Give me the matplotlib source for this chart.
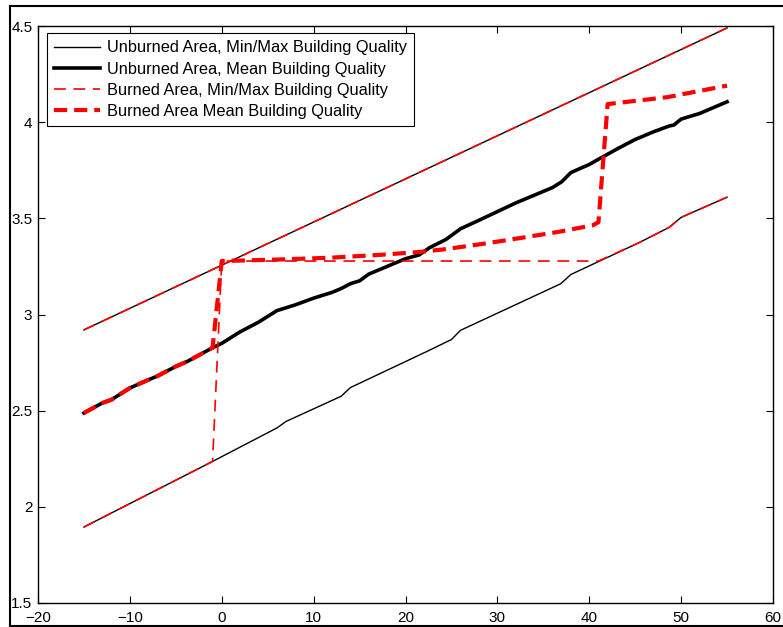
import numpy as np
import matplotlib
matplotlib.use("Agg")
from matplotlib import pyplot as plt
from matplotlib.lines import Line2D

plt.rcParams['font.family'] = ['Liberation Sans', 'DejaVu Sans']
plt.rcParams['lines.scale_dashes'] = False

# 未燃区 最小/最大
max_x = [-15, 55]
max_y = [2.92, 4.49]
min_x = [-15, -1, 6, 7, 13, 14, 22.6, 25, 26, 36.9, 38, 41, 45.4, 48.7, 50, 55]
min_y = [1.895, 2.236, 2.41, 2.444, 2.575, 2.62, 2.814, 2.87, 2.918, 3.16, 3.208,
         3.275, 3.373, 3.453, 3.505, 3.61]

# 未燃区 平均
mean_x = [-15, -13, -12, -10, -8, -7, -5, -3.7, -1, 0, 1, 2, 4, 6, 7, 8, 10, 12, 13,
          14, 15, 16, 18, 20, 21.5, 22.6, 24.4, 26, 28, 30, 32, 34, 36, 37, 38, 40,
          41, 43, 45, 47, 48.7, 49.2, 50, 52, 55]
mean_y = [2.488, 2.54, 2.557, 2.618, 2.66, 2.68, 2.73, 2.757, 2.827, 2.85, 2.88,
          2.91, 2.96, 3.02, 3.035, 3.05, 3.085, 3.115, 3.135, 3.16, 3.175, 3.21,
          3.25, 3.29, 3.31, 3.347, 3.39, 3.446, 3.49, 3.535, 3.58, 3.62, 3.66, 3.69,
          3.738, 3.78, 3.807, 3.86, 3.91, 3.95, 3.98, 3.985, 4.016, 4.045, 4.106]

# 燃烧区 最小/最大
bmin_x = [-15, -1, 0, 41, 45.4, 48.7, 50, 55]
bmin_y = [1.895, 2.236, 3.278, 3.278, 3.373, 3.453, 3.505, 3.61]
bmax_x = [-15, 55]
bmax_y = [2.92, 4.49]

# 燃烧区 平均
bmean_x = [-15, -13, -12, -10, -8, -7, -5, -3.7, -1, 0, 6.3, 11.7, 17.2, 21.5,
           24.4, 28.8, 32.8, 36.7, 40.4, 41, 42, 48.5, 55]
bmean_y = [2.488, 2.54, 2.557, 2.618, 2.66, 2.68, 2.73, 2.757, 2.827, 3.278, 3.286,
           3.295, 3.31, 3.325, 3.34, 3.37, 3.40, 3.43, 3.464, 3.48, 4.094, 4.13, 4.19]

fig = plt.figure(figsize=(7.83, 6.27), dpi=100)
ax = fig.add_axes([38 / 783, 1 - 603 / 627, (773 - 38) / 783, (603 - 26) / 627])

ax.plot(max_x, max_y, color='k', lw=1.0, label="Unburned Area, Min/Max Building Quality")
ax.plot(min_x, min_y, color='k', lw=1.0)
ax.plot(mean_x, mean_y, color='k', lw=2.6, label="Unburned Area, Mean Building Quality")
ax.plot(bmax_x, bmax_y, color='r', lw=1.2, dashes=(8.5, 5.5),
        label="Burned Area, Min/Max Building Quality")
ax.plot(bmin_x, bmin_y, color='r', lw=1.2, dashes=(8.5, 5.5))
ax.plot(bmean_x, bmean_y, color='r', lw=3.0, dashes=(9.5, 5),
        label="Burned Area Mean Building Quality")

ax.set_xlim(-20, 60)
ax.set_ylim(1.5, 4.5)
ax.set_xticks(range(-20, 61, 10))
ax.set_yticks(np.arange(1.5, 4.6, 0.5))
ax.set_yticklabels(["1.5", "2", "2.5", "3", "3.5", "4", "4.5"])
ax.tick_params(direction='in', top=True, right=True, length=5, width=0.8,
               labelsize=11)
ax.tick_params(axis='x', pad=6)
ax.tick_params(axis='y', pad=4)
for s in ax.spines.values():
    s.set_linewidth(1.0)

leg = ax.legend(loc='upper left', bbox_to_anchor=(9 / 735, 1 - 7 / 577),
                borderaxespad=0, fontsize=11.75, fancybox=False, framealpha=1,
                edgecolor='k', handlelength=2.8, handletextpad=0.43,
                labelspacing=0.38, borderpad=0.45)
leg.get_frame().set_linewidth(0.8)

# 外框
fig.add_artist(Line2D([10 / 783, 10 / 783], [0, 1 - 6 / 627], color='k', lw=1.5,
                      transform=fig.transFigure))
fig.add_artist(Line2D([10 / 783, 1], [1 - 6 / 627, 1 - 6 / 627], color='k', lw=1.5,
                      transform=fig.transFigure))
fig.add_artist(Line2D([10 / 783, 1], [1 - 626 / 627, 1 - 626 / 627], color='k',
                      lw=1.5, transform=fig.transFigure))

plt.savefig("out.png", dpi=100)
